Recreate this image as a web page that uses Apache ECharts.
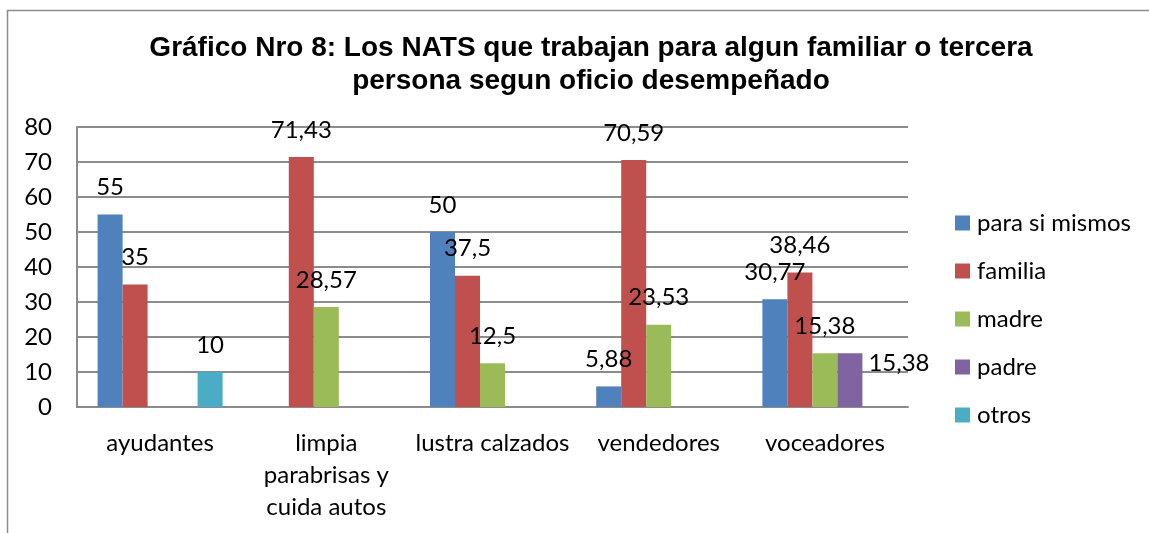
<!DOCTYPE html>
<html>
<head>
<meta charset="utf-8">
<script src="https://cdn.jsdelivr.net/npm/echarts@6/dist/echarts.min.js"></script>
<style>
  html, body { margin: 0; padding: 0; background: #fff; }
  #chart { width: 1149px; height: 533px; }
</style>
</head>
<body>
<div id="chart"></div>
<script>
const categories = ['ayudantes', 'limpia\nparabrisas y\ncuida autos', 'lustra calzados', 'vendedores', 'voceadores'];
const seriesNames = ['para si mismos', 'familia', 'madre', 'padre', 'otros'];
const paraSiMismos = [55, null, 50, 5.88, 30.77];
const familia = [35, 71.43, 37.5, 70.59, 38.46];
const madre = [null, 28.57, 12.5, 23.53, 15.38];
const padre = [null, null, null, null, 15.38];
const otros = [10, null, null, null, null];
const yTicks = [0, 80, 10];

const colors = ['#4F81BD', '#C0504D', '#9BBB59', '#8064A2', '#4BACC6'];
const font = 'Lato, "Open Sans", sans-serif';
const values = [paraSiMismos, familia, madre, padre, otros];

const chart = echarts.init(document.getElementById('chart'));

const fmt = p => String(p.value).replace('.', ',');

const series = seriesNames.map((name, i) => ({
    name,
    type: 'bar',
    data: values[i],
    barWidth: 25,
    barGap: '0%',
    itemStyle: {color: colors[i]},
    label: {
        show: true,
        position: name === 'padre' ? 'right' : 'top',
        distance: name === 'padre' ? 6 : 15,
        offset: name === 'padre' ? [0, -17] : [0, 0],
        formatter: fmt,
        color: '#000',
        fontFamily: font,
        fontSize: 24
    }
}));

chart.setOption({
    animation: false,
    color: colors,
    title: {
        text: 'Gráfico Nro 8: Los NATS que trabajan para algun familiar o tercera\npersona segun oficio desempeñado',
        left: 586,
        top: 27,
        textAlign: 'center',
        textStyle: {
            fontFamily: '"Liberation Sans", Arial, sans-serif',
            fontWeight: 'bold',
            fontSize: 28,
            lineHeight: 33,
            color: '#000'
        }
    },
    legend: {
        orient: 'vertical',
        left: 950,
        top: 206,
        itemWidth: 15,
        itemHeight: 15,
        itemGap: 24,
        icon: 'rect',
        data: seriesNames,
        textStyle: {fontFamily: font, fontSize: 24, lineHeight: 24, color: '#000', padding: [0, 0, 0, 2]}
    },
    grid: {left: 77, right: 241, top: 127, bottom: 126},
    xAxis: {
        type: 'category',
        data: categories,
        axisLine: {lineStyle: {color: '#8c8c8c', width: 2}},
        axisTick: {show: false},
        axisLabel: {
            fontFamily: font, fontSize: 24, color: '#000',
            lineHeight: 32, margin: 20, interval: 0
        }
    },
    yAxis: {
        type: 'value',
        min: yTicks[0],
        max: yTicks[1],
        interval: yTicks[2],
        axisLine: {show: true, lineStyle: {color: '#8c8c8c', width: 2}},
        axisTick: {show: false},
        splitLine: {lineStyle: {color: '#8c8c8c', width: 2}},
        axisLabel: {fontFamily: font, fontSize: 24, color: '#000', margin: 25}
    },
    graphic: [{
        type: 'rect',
        shape: {x: 7.5, y: 10.5, width: 1300, height: 700},
        style: {fill: 'none', stroke: '#8c8c8c', lineWidth: 1.5},
        silent: true
    }],
    series
});
</script>
</body>
</html>
